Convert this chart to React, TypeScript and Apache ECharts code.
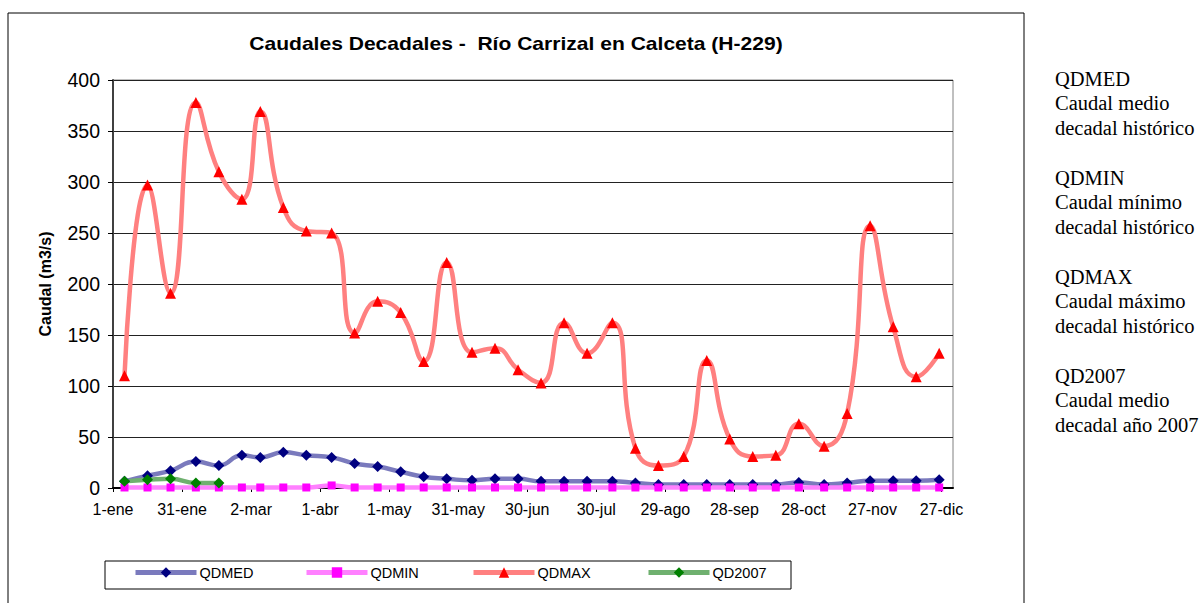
import React, { useEffect, useRef } from "react";
import * as echarts from "echarts";

const decadeDates = [
  "2007-01-06", "2007-01-16", "2007-01-26",
  "2007-02-06", "2007-02-16", "2007-02-26",
  "2007-03-06", "2007-03-16", "2007-03-26",
  "2007-04-06", "2007-04-16", "2007-04-26",
  "2007-05-06", "2007-05-16", "2007-05-26",
  "2007-06-06", "2007-06-16", "2007-06-26",
  "2007-07-06", "2007-07-16", "2007-07-26",
  "2007-08-06", "2007-08-16", "2007-08-26",
  "2007-09-06", "2007-09-16", "2007-09-26",
  "2007-10-06", "2007-10-16", "2007-10-26",
  "2007-11-06", "2007-11-16", "2007-11-26",
  "2007-12-06", "2007-12-16", "2007-12-26",
];

const qdmed = [6.5, 12, 17, 26, 22, 32, 30, 35, 32, 30, 24, 21, 16, 11, 9, 7.5, 9, 9, 6.5, 6.5, 6.5, 6.5, 5, 3.5, 3.5, 3.5, 3.5, 3.5, 3.5, 5.5, 3.5, 5, 7, 7, 7, 8];
const qdmin = [0.5, 0.5, 0.5, 0.5, 0.5, 0.5, 0.5, 0.5, 0.5, 2.5, 0.5, 0.5, 0.5, 0.5, 0.5, 0.5, 0.5, 0.5, 0.5, 0.5, 0.5, 0.5, 0.5, 0.5, 0.5, 0.5, 0.5, 0.5, 0.5, 0.5, 0.5, 0.5, 0.5, 0.5, 0.5, 0.5];
const qdmax = [110, 297, 191, 378, 310, 283, 369, 275, 252, 250, 152, 183, 172, 124, 221, 133, 137, 116, 103, 162, 132, 162, 39, 22, 31, 125, 48, 31, 32, 63, 41, 73, 257, 158, 109, 132];
const qd2007 = [6.5, 8, 9, 5, 5];

const xTickLabels = ["1-ene", "31-ene", "2-mar", "1-abr", "1-may", "31-may", "30-jun", "30-jul", "29-ago", "28-sep", "28-oct", "27-nov", "27-dic"];

const noteGroups = [
  "QDMED\nCaudal medio\ndecadal histórico",
  "QDMIN\nCaudal mínimo\ndecadal histórico",
  "QDMAX\nCaudal máximo\ndecadal histórico",
  "QD2007\nCaudal medio\ndecadal año 2007",
];

const dayOfYear = (s: string) => {
  const [y, m, d] = s.split("-").map(Number);
  return (Date.UTC(y, m - 1, d) - Date.UTC(y, 0, 1)) / 86400000;
};

const pair = (vals: number[]) => vals.map((v, i) => [dayOfYear(decadeDates[i]), v]);

const SANS = "'Liberation Sans', Arial, sans-serif";

export default function App() {
  const ref = useRef<HTMLDivElement>(null);
  useEffect(() => {
    if (!ref.current) return;
    const chart = echarts.init(ref.current, undefined, { renderer: "svg" });
    const legendItem = (name: string, left: number) => ({
      data: [name],
      left,
      top: 565,
      padding: 0,
      itemWidth: 61,
      itemHeight: 13,
      itemGap: 0,
      lineStyle: { width: 5 },
      textStyle: { fontFamily: SANS, fontSize: 14.5, color: "#000", padding: [0, 0, 0, -2] },
    });
    chart.setOption({
      animation: false,
      backgroundColor: "#fff",
      textStyle: { fontFamily: SANS },
      grid: { left: 113, right: 250, top: 80, bottom: 115, show: true, borderColor: "#808080", borderWidth: 1 },
      legend: [
        legendItem("QDMED", 133),
        legendItem("QDMIN", 304),
        legendItem("QDMAX", 471),
        legendItem("QD2007", 646),
      ],
      xAxis: {
        type: "value",
        min: 0,
        max: 365,
        interval: 30,
        axisLine: { show: true, lineStyle: { color: "#000", width: 2 } },
        axisTick: { show: true, length: 4, lineStyle: { color: "#000" } },
        splitLine: { show: false },
        axisLabel: {
          fontSize: 16,
          color: "#000",
          margin: 13,
          showMaxLabel: false,
          formatter: (v: number) => (v % 30 === 0 ? xTickLabels[v / 30] ?? "" : ""),
        },
      },
      yAxis: {
        type: "value",
        min: 0,
        max: 400,
        interval: 50,
        name: "Caudal (m3/s)",
        nameLocation: "middle",
        nameRotate: 90,
        nameGap: 60,
        nameTextStyle: { fontFamily: SANS, fontSize: 16, fontWeight: "bold", color: "#000" },
        axisLine: { show: true, lineStyle: { color: "#404040", width: 2 } },
        axisTick: { show: true, length: 5, lineStyle: { color: "#000" } },
        splitLine: { show: true, lineStyle: { color: "#222", width: 1 } },
        axisLabel: { fontSize: 19.5, color: "#000", margin: 13 },
      },
      series: [
        {
          name: "QDMED",
          type: "line",
          smooth: true,
          data: pair(qdmed),
          symbol: "diamond",
          symbolSize: 11,
          lineStyle: { color: "#7a7abd", width: 4.5 },
          itemStyle: { color: "#000080" },
        },
        {
          name: "QDMIN",
          type: "line",
          smooth: true,
          data: pair(qdmin),
          symbol: "rect",
          symbolSize: 8,
          lineStyle: { color: "#ff80ff", width: 4.5 },
          itemStyle: { color: "#ff00ff" },
        },
        {
          name: "QDMAX",
          type: "line",
          smooth: true,
          data: pair(qdmax),
          symbol: "triangle",
          symbolSize: 11,
          lineStyle: { color: "#ff8080", width: 4.5 },
          itemStyle: { color: "#ff0000" },
        },
        {
          name: "QD2007",
          type: "line",
          smooth: true,
          data: pair(qd2007),
          symbol: "diamond",
          symbolSize: 11,
          lineStyle: { color: "#6fb06f", width: 4.5 },
          itemStyle: { color: "#008000" },
        },
      ],
      graphic: [
        {
          type: "rect",
          shape: { x: 8, y: 13, width: 1016, height: 600 },
          style: { fill: "none", stroke: "#000", lineWidth: 1 },
          silent: true,
        },
        {
          type: "rect",
          shape: { x: 105, y: 561, width: 686, height: 28 },
          style: { fill: "none", stroke: "#000", lineWidth: 1 },
          silent: true,
        },
        {
          type: "text",
          x: 516,
          y: 44,
          scaleX: 1.17,
          style: {
            text: "Caudales Decadales -  Río Carrizal en Calceta (H-229)",
            fontFamily: SANS,
            fontSize: 18,
            fontWeight: "bold",
            fill: "#000",
            textAlign: "center",
            textVerticalAlign: "middle",
          },
        },
        ...noteGroups.map((t, i) => ({
          type: "text",
          x: 1055,
          y: 103 + i * 99,
          style: {
            text: t,
            fontFamily: "'Liberation Serif', 'Times New Roman', serif",
            fontSize: 20.5,
            lineHeight: 24.5,
            fill: "#000",
            textAlign: "left",
            textVerticalAlign: "middle",
          },
        })),
      ],
    });
    return () => chart.dispose();
  }, []);
  return <div ref={ref} style={{ position: "absolute", left: 0, top: 0, width: 1203, height: 603 }} />;
}
